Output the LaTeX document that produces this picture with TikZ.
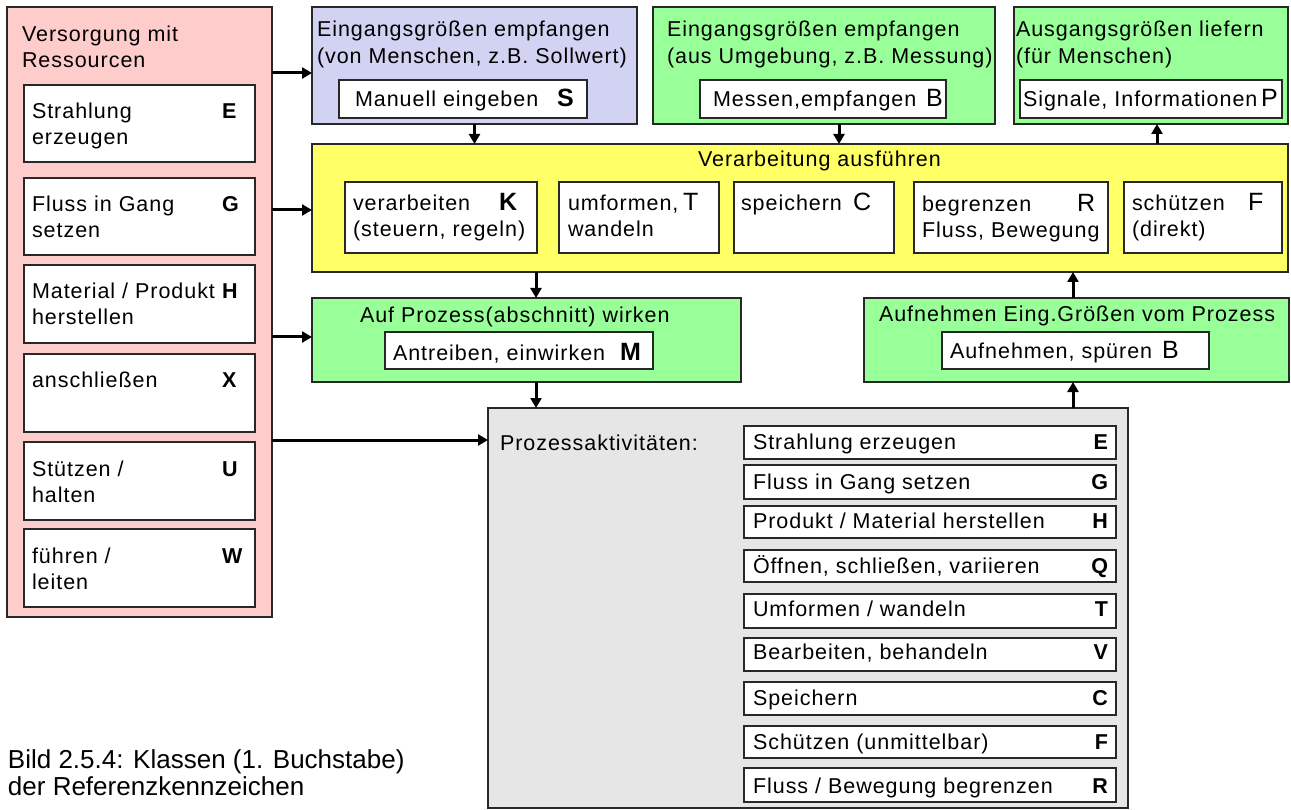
\documentclass[tikz,border=0pt]{standalone}
\usepackage{fontspec}
\setmainfont{Liberation Sans}[LetterSpace=4.5]
\newfontfamily\capfont{Liberation Sans}
\usetikzlibrary{arrows.meta,calc}
\definecolor{pinkfill}{RGB}{255,204,204}
\definecolor{lilac}{RGB}{210,210,242}
\definecolor{mint}{RGB}{153,255,153}
\definecolor{lemon}{RGB}{255,255,102}
\definecolor{pale}{RGB}{230,230,230}
\definecolor{edge}{RGB}{40,40,40}
\tikzset{
  frame/.style={draw=edge, line width=1.8pt, inner sep=0pt, outer sep=0pt, anchor=north west},
  cell/.style={frame, fill=white},
  txt/.style={anchor=base west, inner sep=0pt, outer sep=0pt},
  code/.style={txt, font=\bfseries},
  bigcode/.style={txt, font=\fontsize{25}{30}\selectfont},
  bigbold/.style={txt, font=\fontsize{25}{30}\selectfont\bfseries},
  listcode/.style={anchor=base east, inner sep=0pt, outer sep=0pt, font=\bfseries},
  arr/.style={line width=3pt, draw=black, -{Triangle[length=10pt,width=11pt]}},
}
% rectangle: style, name, x, y (top left), width, height
\newcommand\rbox[6]{\node[#1, minimum width=#5pt, minimum height=#6pt] (#2) at (#3,#4) {};}
\begin{document}
\fontsize{21.5}{26}\selectfont
\begin{tikzpicture}[x=1pt,y=-1pt]
\useasboundingbox (0,0) rectangle (1291,810);

% ---- supply column ----
\rbox{frame,fill=pinkfill}{pink}{7}{7}{265}{610}
\node[txt] (pinkA) at (22,42) {Versorgung mit};
\node[txt] (pinkB) at (22,68) {Ressourcen};
\rbox{cell}{sE}{24}{85}{231}{77}
\node[txt] (sE1) at (32,119) {Strahlung};
\node[txt] (sE2) at (32,145) {erzeugen};
\node[code] (sEc) at (222,119) {E};
\rbox{cell}{sG}{24}{178}{231}{77}
\node[txt] (sG1) at (32,212) {Fluss in Gang};
\node[txt] (sG2) at (32,238) {setzen};
\node[code] (sGc) at (222,212) {G};
\rbox{cell}{sH}{24}{265}{231}{78}
\node[txt] (sH1) at (32,299) {Material / Produkt};
\node[txt] (sH2) at (32,325) {herstellen};
\node[code] (sHc) at (222,299) {H};
\rbox{cell}{sX}{24}{354}{231}{78}
\node[txt] (sX1) at (32,388) {anschließen};
\node[code] (sXc) at (222,388) {X};
\rbox{cell}{sU}{24}{442}{231}{78}
\node[txt] (sU1) at (32,476) {Stützen /};
\node[txt] (sU2) at (32,502) {halten};
\node[code] (sUc) at (222,476) {U};
\rbox{cell}{sW}{24}{529}{231}{78}
\node[txt] (sW1) at (32,563) {führen /};
\node[txt] (sW2) at (32,589) {leiten};
\node[code] (sWc) at (222,563) {W};

% ---- input / output boxes ----
\rbox{frame,fill=lilac}{purple}{312}{7}{325}{117}
\node[txt] (pu1) at (317,37) {Eingangsgrößen empfangen};
\node[txt] (pu2) at (317,64) {(von Menschen, z.B. Sollwert)};
\rbox{cell}{puIn}{339}{80}{248}{38}
\node[txt] (puT) at (355,107) {Manuell eingeben};
\node[bigbold] (puC) at (557,107) {S};

\rbox{frame,fill=mint}{green2}{653}{7}{342}{117}
\node[txt] (gr1) at (667,37) {Eingangsgrößen empfangen};
\node[txt] (gr2) at (667,64) {(aus Umgebung, z.B. Messung)};
\rbox{cell}{grIn}{700}{80}{246}{38}
\node[txt] (grT) at (713,107) {Messen,empfangen};
\node[bigcode] (grC) at (926,107) {B};

\rbox{frame,fill=mint}{green3}{1014}{7}{274}{117}
\node[txt] (ou1) at (1016,37) {Ausgangsgrößen liefern};
\node[txt] (ou2) at (1016,64) {(für Menschen)};
\rbox{cell}{ouIn}{1020}{80}{262}{38}
\node[txt] (ouT) at (1023,107) {Signale, Informationen};
\node[bigcode] (ouC) at (1261,107) {P};

% ---- processing ----
\rbox{frame,fill=lemon}{yellow}{312}{144}{976}{128}
\node[txt] (ye) at (698,167) {Verarbeitung ausführen};
\rbox{cell}{yK}{345}{182}{192}{71}
\node[txt] (yK1) at (353,211) {verarbeiten};
\node[txt] (yK2) at (353,237) {(steuern, regeln)};
\node[bigbold] (yKc) at (499,211) {K};
\rbox{cell}{yT}{559}{182}{160}{71}
\node[txt] (yT1) at (568,211) {umformen,};
\node[txt] (yT2) at (568,237) {wandeln};
\node[bigcode] (yTc) at (683,211) {T};
\rbox{cell}{yC}{734}{182}{160}{71}
\node[txt] (yC1) at (741,211) {speichern};
\node[bigcode] (yCc) at (853,211) {C};
\rbox{cell}{yR}{914}{182}{194}{71}
\node[txt] (yR1) at (922,212) {begrenzen};
\node[txt] (yR2) at (922,238) {Fluss, Bewegung};
\node[bigcode] (yRc) at (1077,212) {R};
\rbox{cell}{yF}{1124}{182}{158}{71}
\node[txt] (yF1) at (1132,211) {schützen};
\node[txt] (yF2) at (1132,237) {(direkt)};
\node[bigcode] (yFc) at (1248,211) {F};

% ---- acting on / sensing the process ----
\rbox{frame,fill=mint}{auf}{312}{298}{429}{84}
\node[txt] (au1) at (360,323) {Auf Prozess(abschnitt) wirken};
\rbox{cell}{auIn}{385}{332}{268}{37}
\node[txt] (auT) at (393,360) {Antreiben, einwirken};
\node[bigbold] (auC) at (620,360) {M};

\rbox{frame,fill=mint}{aufn}{864}{298}{425}{84}
\node[txt] (an1) at (879,322) {Aufnehmen Eing.Größen vom Prozess};
\rbox{cell}{anIn}{942}{332}{267}{37}
\node[txt] (anT) at (950,359) {Aufnehmen, spüren};
\node[bigcode] (anC) at (1162,359) {B};

% ---- process activities ----
\rbox{frame,fill=pale}{gray}{488}{408}{640}{400}
\node[txt] (grayT) at (500,450) {Prozessaktivitäten:};
\rbox{cell}{lE}{744}{426}{372}{33}
\node[txt] (lE1) at (753,449) {Strahlung erzeugen};
\node[listcode] (lEc) at (1108,449) {E};
\rbox{cell}{lG}{744}{465}{372}{34}
\node[txt] (lG1) at (753,489) {Fluss in Gang setzen};
\node[listcode] (lGc) at (1108,489) {G};
\rbox{cell}{lH}{744}{506}{372}{32}
\node[txt] (lH1) at (753,528) {Produkt / Material herstellen};
\node[listcode] (lHc) at (1108,528) {H};
\rbox{cell}{lQ}{744}{550}{372}{32}
\node[txt] (lQ1) at (753,573) {Öffnen, schließen, variieren};
\node[listcode] (lQc) at (1108,573) {Q};
\rbox{cell}{lT}{744}{594}{372}{34}
\node[txt] (lT1) at (753,616) {Umformen / wandeln};
\node[listcode] (lTc) at (1108,616) {T};
\rbox{cell}{lV}{744}{638}{372}{33}
\node[txt] (lV1) at (753,659) {Bearbeiten, behandeln};
\node[listcode] (lVc) at (1108,659) {V};
\rbox{cell}{lC}{744}{682}{372}{33}
\node[txt] (lC1) at (753,705) {Speichern};
\node[listcode] (lCc) at (1108,705) {C};
\rbox{cell}{lF}{744}{726}{372}{32}
\node[txt] (lF1) at (753,749) {Schützen (unmittelbar)};
\node[listcode] (lFc) at (1108,749) {F};
\rbox{cell}{lR}{744}{768}{372}{34}
\node[txt] (lR1) at (753,793) {Fluss / Bewegung begrenzen};
\node[listcode] (lRc) at (1108,793) {R};

% ---- caption ----
\node[txt, font=\capfont\fontsize{26}{30}\selectfont] (cap1) at (8,768) {Bild 2.5.4: Klassen (1. Buchstabe)};
\node[txt, font=\capfont\fontsize{26}{30}\selectfont] (cap2) at (8,795) {der Referenzkennzeichen};

% ---- connectors ----
\coordinate (o1) at ($(pink.north east)+(0,66)$);
\coordinate (o2) at ($(pink.north east)+(0,203)$);
\coordinate (o3) at ($(pink.north east)+(0,330)$);
\coordinate (o4) at ($(pink.north east)+(0,433)$);
\draw[arr] (o1) -- (o1 -| purple.west);
\draw[arr] (o2) -- (o2 -| yellow.west);
\draw[arr] (o3) -- (o3 -| auf.west);
\draw[arr] (o4) -- (o4 -| gray.west);

\coordinate (v1) at (purple.south);
\coordinate (v2) at ($(green2.south west)+(186,0)$);
\coordinate (v3) at ($(yellow.north west)+(845,0)$);
\coordinate (v4) at ($(yellow.south west)+(224,0)$);
\coordinate (v5) at ($(aufn.north west)+(209,0)$);
\coordinate (v6) at ($(auf.south west)+(224,0)$);
\coordinate (v7) at ($(gray.north west)+(585,0)$);
\draw[arr] (v1) -- (v1 |- yellow.north);
\draw[arr] (v2) -- (v2 |- yellow.north);
\draw[arr] (v3) -- (v3 |- green3.south);
\draw[arr] (v4) -- (v4 |- auf.north);
\draw[arr] (v5) -- (v5 |- yellow.south);
\draw[arr] (v6) -- (v6 |- gray.north);
\draw[arr] (v7) -- (v7 |- aufn.south);
\end{tikzpicture}
\end{document}
